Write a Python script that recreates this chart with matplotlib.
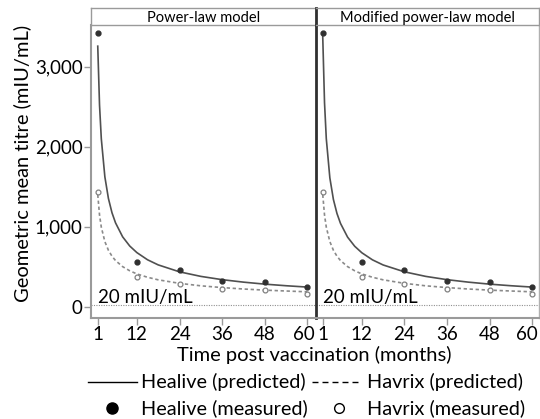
import matplotlib
matplotlib.use("Agg")
import matplotlib.pyplot as plt
from matplotlib.lines import Line2D
from matplotlib.transforms import ScaledTranslation

plt.rcParams['font.family'] = ['Lato', 'DejaVu Sans']

# ---- data ----
panel_titles = ["Power-law model", "Modified power-law model"]
months_measured = [1, 12, 24, 36, 48, 60]
healive_measured = [3425, 560, 455, 321, 313, 243]
havrix_measured = [1430, 375, 284, 225, 209, 155]

months_pred = [1, 1.5, 2, 3, 4, 5, 6, 8, 10, 12, 15, 18, 24, 30, 36, 42, 48, 54, 60]
healive_pred_power = [3258, 2520, 2099, 1623, 1352, 1174, 1047, 872, 757, 675, 585, 521,
                      434, 377, 336, 305, 280, 260, 243]
havrix_pred_power = [1400, 1145, 993, 812, 704, 630, 575, 499, 447, 408, 366, 334,
                     290, 259, 237, 219, 205, 194, 184]
healive_pred_mod = [3375, 2550, 2100, 1610, 1340, 1165, 1040, 868, 754, 673, 584, 520,
                    434, 377, 336, 305, 280, 260, 243]
havrix_pred_mod = [1400, 1145, 993, 812, 704, 630, 575, 499, 447, 408, 366, 334,
                   290, 259, 237, 219, 205, 194, 184]
threshold = 20
threshold_label = "20 mIU/mL"
xticks = [1, 12, 24, 36, 48, 60]
yticks = [0, 1000, 2000, 3000]
ytick_labels = ["0", "1,000", "2,000", "3,000"]

preds = [(healive_pred_power, havrix_pred_power), (healive_pred_mod, havrix_pred_mod)]

W, H = 540, 419
fig = plt.figure(figsize=(W / 100, H / 100), dpi=100)

def fx(px):
    return px / W

def fy(py):
    return 1 - py / H

top_px, bot_px = 25, 317.7
strip_top = 8.5
panels = [(91, 316), (316, 539)]
solid_col = "#505050"
dash_col = "#8a8a8a"
spine_gray = "#9a9a9a"
FS = 13.5

axes = []
for i, (l, r) in enumerate(panels):
    ax = fig.add_axes([fx(l), fy(bot_px), fx(r - l), fy(top_px) - fy(bot_px)])
    axes.append(ax)
    hp, vp = preds[i]
    ax.plot(months_pred, hp, color=solid_col, lw=1.2, zorder=3)
    ax.plot(months_pred, vp, color=dash_col, lw=1.2, ls=(0, (2.0, 1.6)), zorder=3)
    ax.plot(months_measured, healive_measured, 'o', ms=3.5, color="#303030", zorder=4)
    ax.plot(months_measured, havrix_measured, 'o', ms=3.5, mfc="white", mec="#808080",
            mew=0.9, zorder=4)
    ax.axhline(threshold, color="#909090", lw=0.8, ls=(0, (1, 1.2)), zorder=2)
    ax.text(1, 45, threshold_label, fontsize=FS, ha="left", va="baseline", color="black")
    ax.set_xlim(-0.9, 62.4 if i == 0 else 61.9)
    ax.set_ylim(-140, 3523)
    ax.set_xticks(xticks)
    ax.set_xticklabels([str(t) for t in xticks], fontsize=FS)
    ax.tick_params(axis="x", length=5, width=1, color=spine_gray, pad=1)
    last = ax.get_xticklabels()[-1]
    shift = -4 if i == 0 else -5
    last.set_transform(last.get_transform() + ScaledTranslation(shift / 100, 0, fig.dpi_scale_trans))
    if i == 0:
        ax.set_yticks(yticks)
        ax.set_yticklabels(ytick_labels, fontsize=FS)
        ax.tick_params(axis="y", length=5, width=1, color=spine_gray, pad=1)
        ax.spines["left"].set_color(spine_gray)
        ax.spines["left"].set_linewidth(1.5)
        ax.spines["right"].set_visible(False)
    else:
        ax.set_yticks([])
        ax.spines["left"].set_color("#303030")
        ax.spines["left"].set_linewidth(2.0)
        ax.spines["right"].set_color("#b0b0b0")
        ax.spines["right"].set_linewidth(1.0)
    ax.spines["bottom"].set_color(spine_gray)
    ax.spines["bottom"].set_linewidth(1.5)
    ax.spines["top"].set_visible(False)

    # strip
    sax = fig.add_axes([fx(l), fy(top_px), fx(r - l), fy(strip_top) - fy(top_px)])
    sax.set_xticks([])
    sax.set_yticks([])
    for s in sax.spines.values():
        s.set_color(spine_gray)
        s.set_linewidth(1.0)
    if i == 1:
        sax.spines["left"].set_color("#303030")
        sax.spines["left"].set_linewidth(2.0)
    sax.text(0.5, 0.45, panel_titles[i], ha="center", va="center", fontsize=10.5,
             transform=sax.transAxes)

fig.text(fx(22), fy(163), "Geometric mean titre (mIU/mL)", rotation=90,
         ha="center", va="center", fontsize=14.5)
fig.text(fx(314), fy(355), "Time post vaccination (months)", ha="center",
         va="center", fontsize=14.5)

# legend (manual)
row1, row2 = 381.5, 408
LFS = 14.3
fig.add_artist(Line2D([fx(88), fx(137)], [fy(row1), fy(row1)], color="black", lw=1.0,
                      transform=fig.transFigure))
fig.add_artist(Line2D([fx(312), fx(362)], [fy(row1), fy(row1)], color="black", lw=1.0,
                      ls=(0, (4.3, 2.9)), transform=fig.transFigure))
fig.add_artist(Line2D([fx(112)], [fy(row2)], marker="o", ms=8, color="black", lw=0,
                      transform=fig.transFigure))
fig.add_artist(Line2D([fx(339)], [fy(row2)], marker="o", ms=7, mfc="white", mec="black",
                      mew=1.0, lw=0, transform=fig.transFigure))
fig.text(fx(141), fy(row1), "Healive (predicted)", ha="left", va="center", fontsize=LFS)
fig.text(fx(367), fy(row1), "Havrix (predicted)", ha="left", va="center", fontsize=LFS)
fig.text(fx(141), fy(row2), "Healive (measured)", ha="left", va="center", fontsize=LFS)
fig.text(fx(367), fy(row2), "Havrix (measured)", ha="left", va="center", fontsize=LFS)

fig.savefig("out.png", dpi=100)
